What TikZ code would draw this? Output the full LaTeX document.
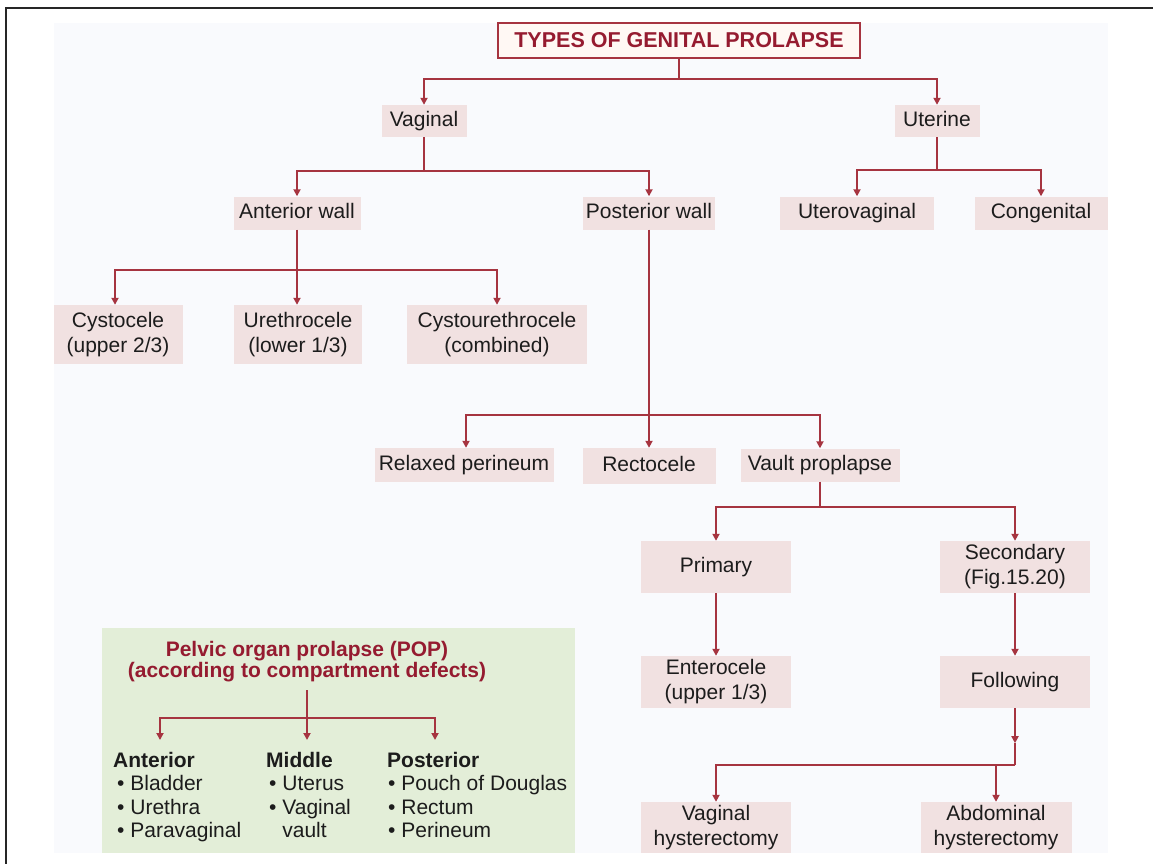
\documentclass[tikz,border=0pt]{standalone}
\usepackage{fontspec}
\setmainfont{Liberation Sans}
\usetikzlibrary{arrows.meta}
\definecolor{ln}{HTML}{A63440}
\definecolor{boxc}{HTML}{F1E1E1}
\definecolor{txt}{HTML}{1C1C1C}
\definecolor{titlec}{HTML}{951B30}
\definecolor{titlefill}{HTML}{FFF8F4}
\definecolor{bgc}{HTML}{F9FAFD}
\definecolor{greenc}{HTML}{E3EED8}
\definecolor{framec}{HTML}{262626}
\begin{document}
\begin{tikzpicture}[x=1pt,y=-1pt,
  box/.style={fill=boxc, text=txt, inner sep=0pt, font=\fontsize{21}{25}\selectfont, align=center},
  one/.style={box, text height=15pt, text depth=4.5pt},
  conn/.style={draw=ln, line width=2pt},
  arr/.style={conn, -{Triangle[length=7pt,width=7pt]}},
  item/.style={anchor=base west, inner sep=0pt, text=txt, font=\fontsize{21}{24}\selectfont}
]
\useasboundingbox (0,0) rectangle (1153,864);
\fill[white] (0,0) rectangle (1153,864);
\fill[bgc] (54,23) rectangle (1108,853);
\draw[framec, line width=2.5pt] (6,864) -- (6,8) -- (1153,8);

% nodes
\node[draw=ln, line width=1.8pt, fill=titlefill, minimum width=362pt, minimum height=35pt,
      text=titlec, font=\bfseries\fontsize{21.5}{24}\selectfont, inner sep=0pt,
      text height=15pt, text depth=0pt] (title) at (679,40.5) {TYPES OF GENITAL PROLAPSE};
\node[one, minimum width=85pt, minimum height=32pt] (vag) at (424,121) {Vaginal};
\node[one, minimum width=85pt, minimum height=32pt] (ut) at (937,121) {Uterine};
\node[one, minimum width=127pt, minimum height=33pt] (ant) at (297,213) {Anterior wall};
\node[one, minimum width=132pt, minimum height=33pt] (post) at (649,213) {Posterior wall};
\node[one, minimum width=154pt, minimum height=33pt] (uv) at (857,213) {Uterovaginal};
\node[one, minimum width=133pt, minimum height=33pt] (cong) at (1041,213) {Congenital};
\node[box, minimum width=129pt, minimum height=59pt] (cys) at (118,334.5) {Cystocele\\(upper 2/3)};
\node[box, minimum width=128pt, minimum height=59pt] (ure) at (298,334.5) {Urethrocele\\(lower 1/3)};
\node[box, minimum width=180pt, minimum height=59pt] (cu) at (497,334.5) {Cystourethrocele\\(combined)};
\node[one, minimum width=179pt, minimum height=34pt] (rp) at (464,465) {Relaxed perineum};
\node[one, minimum width=133pt, minimum height=36pt] (rec) at (649,466) {Rectocele};
\node[one, minimum width=159pt, minimum height=33pt] (vp) at (820,465) {Vault proplapse};
\node[one, minimum width=150pt, minimum height=52pt] (pri) at (716,567) {Primary};
\node[box, minimum width=150pt, minimum height=52pt] (sec) at (1015,567) {Secondary\\(Fig.15.20)};
\node[box, minimum width=150pt, minimum height=52pt] (ent) at (716,682) {Enterocele\\(upper 1/3)};
\node[one, minimum width=150pt, minimum height=52pt] (fol) at (1015,682) {Following};
\node[box, minimum width=150pt, minimum height=51pt] (vh) at (716,827.5) {Vaginal\\hysterectomy};
\node[box, minimum width=151pt, minimum height=51pt] (ah) at (996,827.5) {Abdominal\\hysterectomy};

% connectors
\draw[conn] (title.south) -- ++(0,20) coordinate (j0);
\draw[arr] (j0) -| (vag.north);
\draw[arr] (j0) -| (ut.north);

\draw[conn] (vag.south) -- ++(0,34) coordinate (j1);
\draw[arr] (j1) -| (ant.north);
\draw[arr] (j1) -| (post.north);

\draw[conn] (ut.south) -- ++(0,33) coordinate (j1b);
\draw[arr] (j1b) -| (uv.north);
\draw[arr] (j1b) -| (cong.north);

\draw[arr] (ant.south) -- (ant.south |- ure.north);
\path (ant.south) ++(0,40.5) coordinate (j2);
\draw[arr] (j2) -| ([xshift=-3pt]cys.north);
\draw[arr] (j2) -| (cu.north);

\draw[arr] (post.south) -- (post.south |- rec.north);
\path (post.south) ++(0,185.5) coordinate (j3);
\draw[arr] (j3) -| ([xshift=2pt]rp.north);
\draw[arr] (j3) -| (vp.north);

\draw[conn] (vp.south) -- ++(0,25.5) coordinate (j4);
\draw[arr] (j4) -| (pri.north);
\draw[arr] (j4) -| (sec.north);

\draw[arr] (pri.south) -- (ent.north);
\draw[arr] (sec.south) -- (fol.north);

\draw[arr] (fol.south) -- ++(0,35) coordinate (fm);
\draw[conn] (fm) -- ++(0,22) coordinate (fj);
\draw[arr] (fj) -| (vh.north);
\draw[arr] (fj) -| (ah.north);

% POP box
\fill[greenc] (102,628) rectangle (575,853);
\node[font=\bfseries\fontsize{21}{21}\selectfont, text=titlec, align=center, inner sep=0pt] (pop) at (307,662) {Pelvic organ prolapse (POP)\\(according to compartment defects)};
\draw[conn] (307,690) coordinate (ps) -- (307,718) coordinate (pj);
\coordinate (pa) at (160,740);
\coordinate (pm) at (307,740);
\coordinate (pp) at (435,740);
\draw[arr] (pj) -| (pa);
\draw[arr] (pj) -- (pm);
\draw[arr] (pj) -| (pp);

\node[item, font=\bfseries\fontsize{21}{24}\selectfont] (ahd) at (113,767) {Anterior};
\node[item] (a1) at (117,790.5) {• Bladder};
\node[item] (a2) at (117,814) {• Urethra};
\node[item] (a3) at (117,837.5) {• Paravaginal};
\node[item, font=\bfseries\fontsize{21}{24}\selectfont] (mhd) at (266,767) {Middle};
\node[item] (m1) at (269,790.5) {• Uterus};
\node[item] (m2) at (269,814) {• Vaginal};
\node[item] (m3) at (269,837.5) {\phantom{•} vault};
\node[item, font=\bfseries\fontsize{21}{24}\selectfont] (phd) at (387,767) {Posterior};
\node[item] (p1) at (388,790.5) {• Pouch of Douglas};
\node[item] (p2) at (388,814) {• Rectum};
\node[item] (p3) at (388,837.5) {• Perineum};
\end{tikzpicture}
\end{document}
